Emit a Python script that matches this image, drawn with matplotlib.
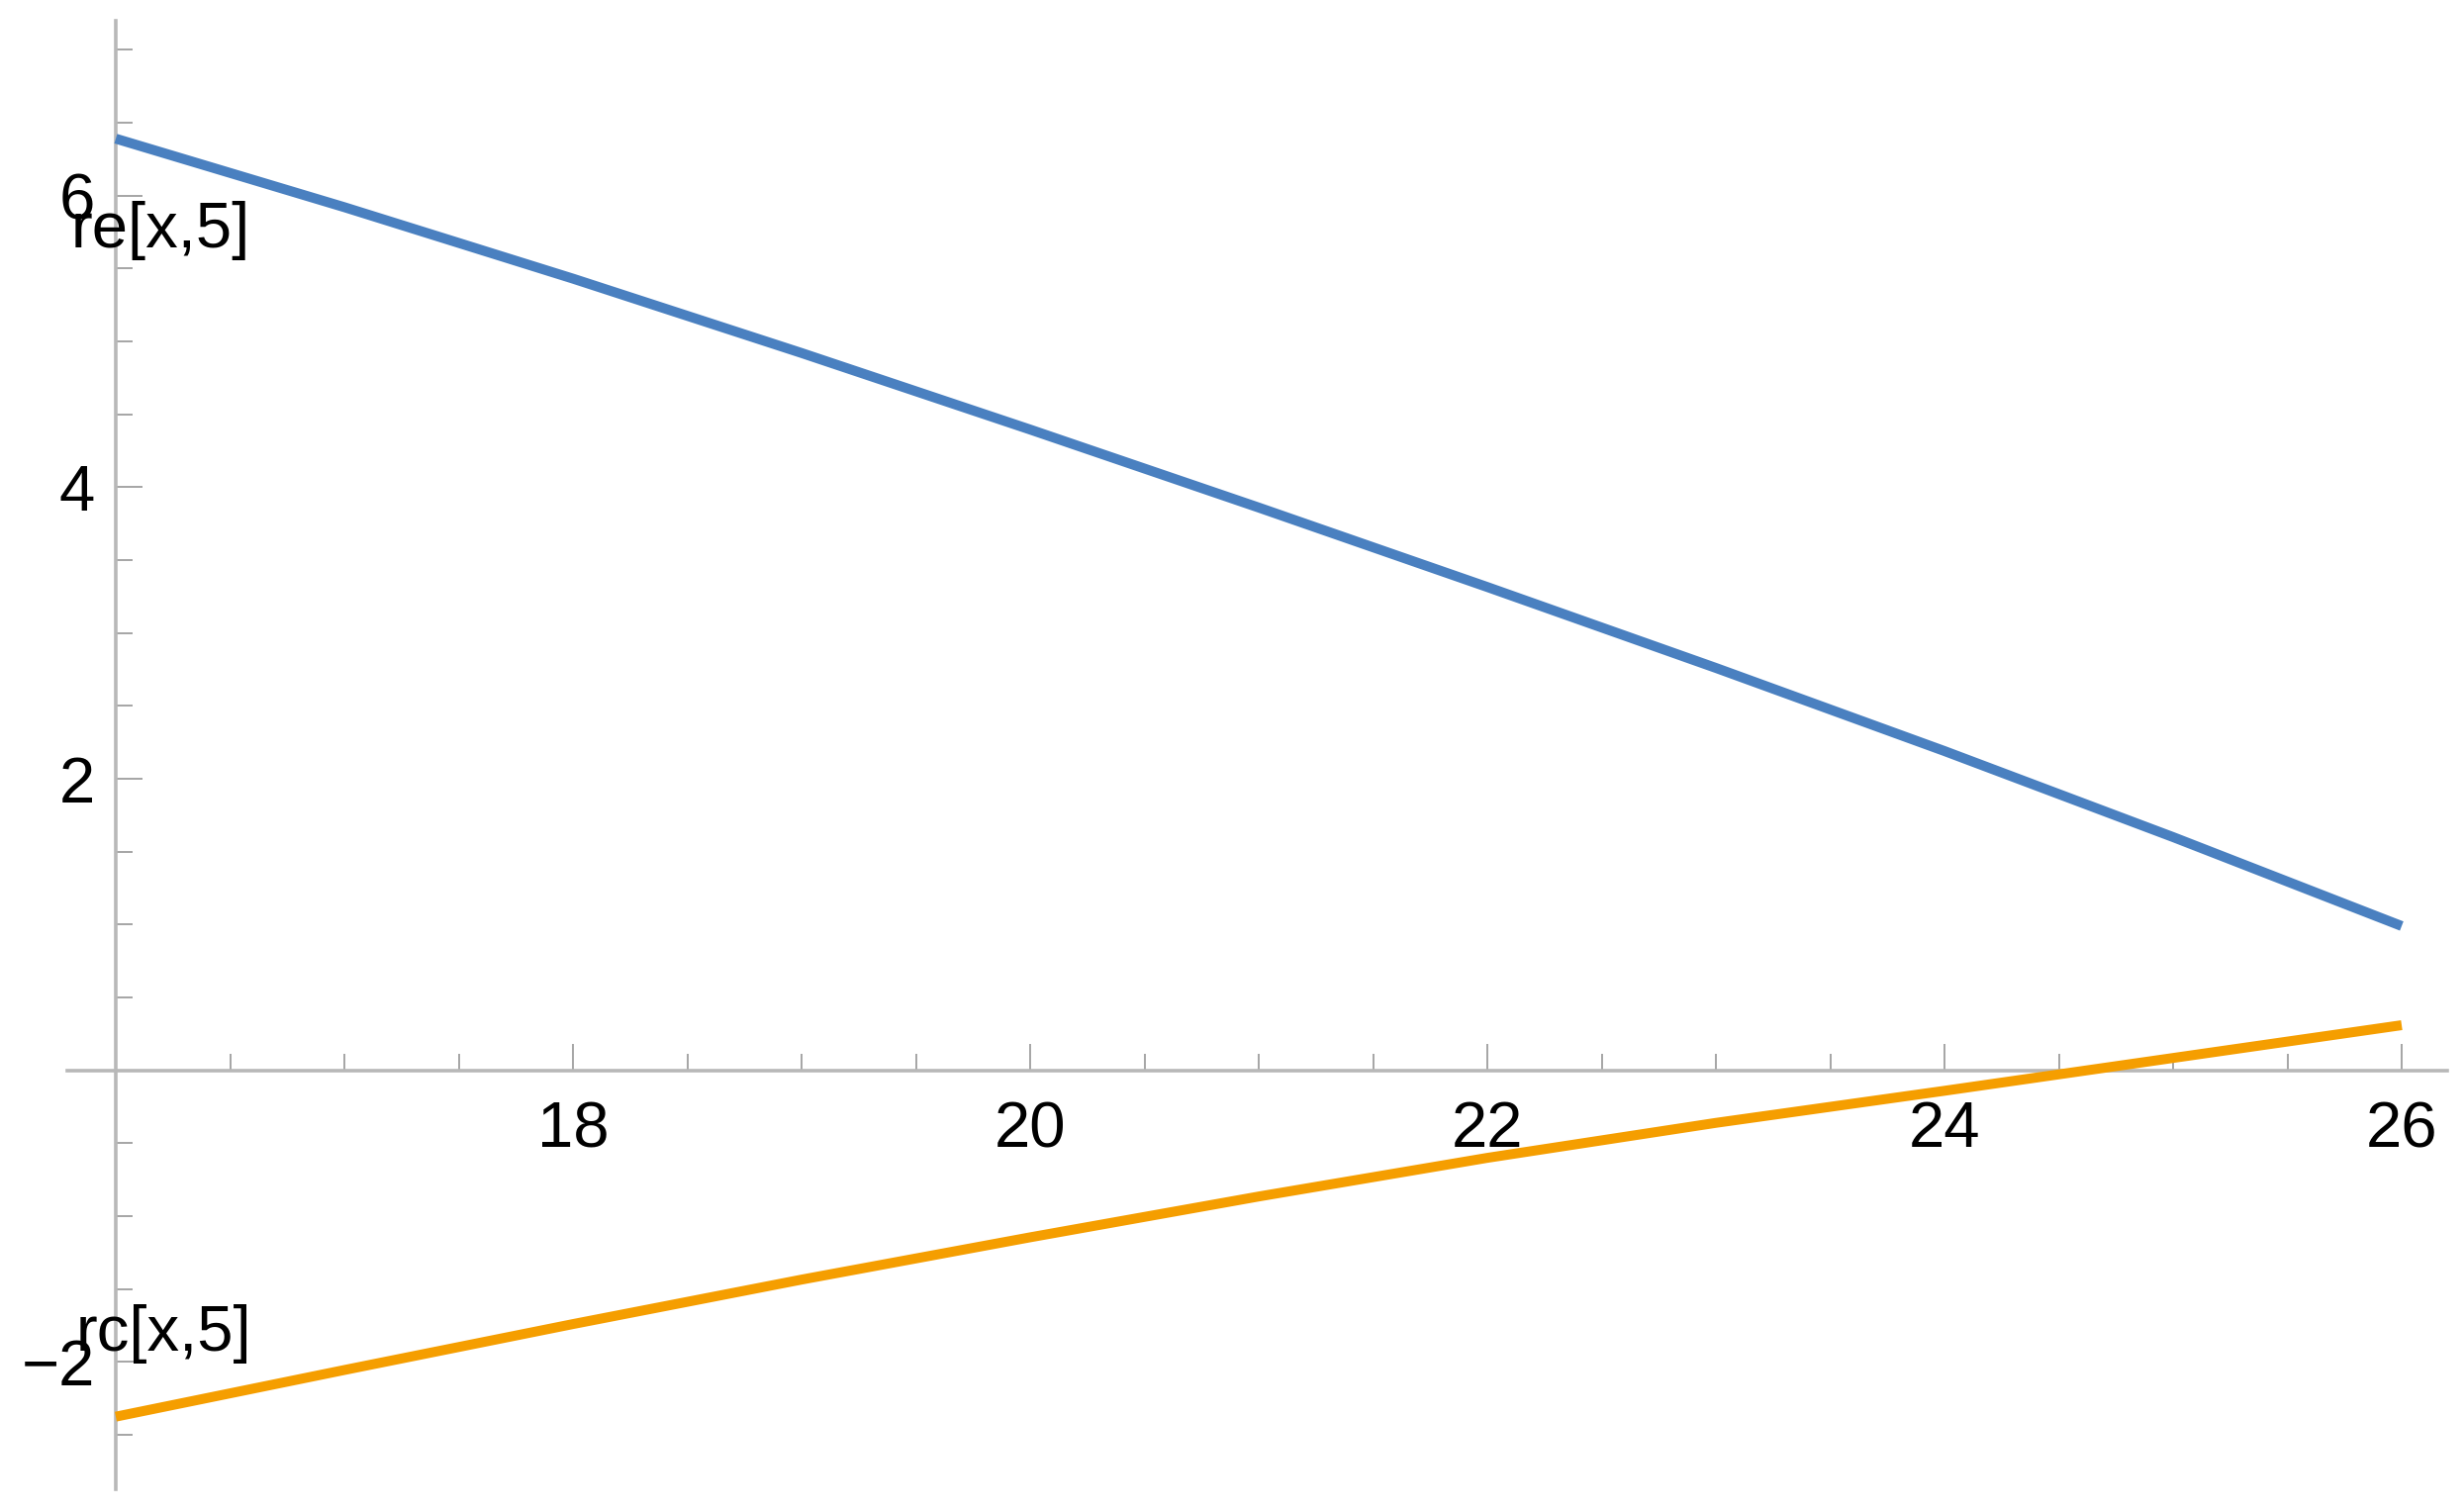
import numpy as np
import matplotlib
matplotlib.use("Agg")
import matplotlib.pyplot as plt
from matplotlib.ticker import FixedLocator

# values
x = [16, 17, 18, 19, 20, 21, 22, 23, 24, 25, 26]
re_vals = [6.39, 5.92, 5.43, 4.92, 4.395, 3.86, 3.315, 2.76, 2.19, 1.60, 0.99]
rc_vals = [-2.375, -2.055, -1.74, -1.435, -1.145, -0.865, -0.60, -0.36, -0.14, 0.085, 0.31]

x_major = [16, 18, 20, 22, 24, 26]
x_labels = ["", "18", "20", "22", "24", "26"]
y_major = [-2, 0, 2, 4, 6]
y_labels = ["\u22122", "", "2", "4", "6"]

plt.rcParams['font.family'] = ['Liberation Sans', 'DejaVu Sans']

fig = plt.figure(figsize=(24.9, 15.27), dpi=100)
ax = fig.add_axes([0, 0, 1, 1])
ax.set_xlim(15.4935, 26.2727)
ax.set_ylim(-3.022, 7.341)

blue = '#4a80c0'
orange = '#f59e00'
ax.plot(x, re_vals, color=blue, lw=7.2, solid_capstyle='butt', solid_joinstyle='round', zorder=3)
ax.plot(x, rc_vals, color=orange, lw=7.2, solid_capstyle='butt', solid_joinstyle='round', zorder=3)

# mathematica style axes crossing at (16, 0)
axis_col = '#b8b8b8'
for s in ['top', 'right']:
    ax.spines[s].set_visible(False)
ax.spines['bottom'].set_position(('data', 0))
ax.spines['left'].set_position(('data', 16))
ax.spines['bottom'].set_bounds(15.79, 26.2)
ax.spines['left'].set_bounds(-2.87, 7.2)
for s in ['bottom', 'left']:
    ax.spines[s].set_color(axis_col)
    ax.spines[s].set_linewidth(2.6)

ax.set_xticks(x_major)
ax.set_xticklabels(x_labels)
ax.set_yticks(y_major)
ax.set_yticklabels(y_labels)
ax.xaxis.set_minor_locator(FixedLocator([v for v in np.arange(16.5, 26, 0.5) if v not in x_major]))
ax.yaxis.set_minor_locator(FixedLocator([v for v in np.arange(-2.5, 7.01, 0.5) if v not in y_major]))

ax.tick_params(which='both', direction='in', color='#a5a5a5', width=1.4, labelsize=47, labelcolor='black')
ax.tick_params(which='major', length=19.5)
ax.tick_params(which='minor', length=12)
ax.tick_params(axis='x', which='major', pad=22)
ax.tick_params(axis='y', which='major', pad=15)

ax.text(15.805, 5.645, "re[x,5]", fontsize=47, ha='left', va='baseline', zorder=4)
ax.text(15.827, -1.923, "rc[x,5]", fontsize=47, ha='left', va='baseline', zorder=4)

fig.savefig("out.png", dpi=100)
